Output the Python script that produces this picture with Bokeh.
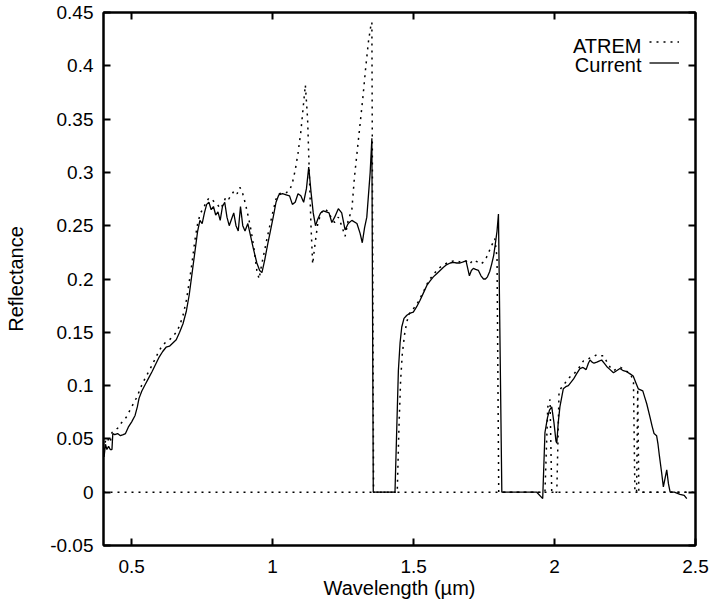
from bokeh.plotting import figure
from bokeh.models import (Range1d, LinearAxis, FixedTicker, PrintfTickFormatter,
                          CustomJSTickFormatter, Span, Legend, LegendItem, Label)
from bokeh.embed import file_html
from bokeh.resources import INLINE

# ---------------- data ----------------
current_wl = [
    0.402, 0.407, 0.412, 0.418, 0.424, 0.430, 0.433, 0.440, 0.450, 0.460, 0.470, 0.478,
    0.488, 0.500, 0.512, 0.520, 0.526, 0.536, 0.548, 0.560, 0.572, 0.585, 0.598, 0.610,
    0.622, 0.634, 0.646, 0.658, 0.670, 0.682, 0.694, 0.704, 0.714, 0.724, 0.734, 0.742,
    0.750, 0.758, 0.766, 0.774, 0.782, 0.790, 0.798, 0.806, 0.814, 0.822, 0.830, 0.838,
    0.846, 0.854, 0.862, 0.870, 0.878, 0.886, 0.894, 0.902, 0.912, 0.922, 0.932, 0.944,
    0.954, 0.962, 0.972, 0.982, 0.992, 1.002, 1.012, 1.022, 1.035, 1.048, 1.060, 1.070,
    1.080, 1.090, 1.100, 1.110, 1.120, 1.128, 1.136, 1.144, 1.152, 1.160, 1.170, 1.180,
    1.190, 1.200, 1.210, 1.220, 1.233, 1.245, 1.257, 1.268, 1.281, 1.299, 1.310, 1.318,
    1.326, 1.334, 1.346, 1.352, 1.357,
    1.434, 1.446, 1.452, 1.458, 1.466, 1.476, 1.488, 1.499, 1.511, 1.523, 1.535, 1.547,
    1.558, 1.570, 1.582, 1.594, 1.606, 1.618, 1.630, 1.641, 1.653, 1.665, 1.676, 1.686,
    1.692, 1.698, 1.705, 1.712, 1.720, 1.730, 1.739, 1.748, 1.755, 1.762, 1.770, 1.777,
    1.784, 1.789, 1.796, 1.801, 1.813,
    1.937, 1.958, 1.966, 1.975, 1.982, 1.990, 1.998, 2.005, 2.008, 2.013, 2.019, 2.031,
    2.040, 2.049, 2.058, 2.067, 2.078, 2.090, 2.101, 2.112, 2.120, 2.126, 2.133, 2.140,
    2.150, 2.158, 2.167, 2.176, 2.185, 2.197, 2.209, 2.220, 2.232, 2.244, 2.256, 2.268,
    2.279, 2.288, 2.297, 2.305, 2.313, 2.320, 2.327, 2.339, 2.346, 2.353, 2.362, 2.367,
    2.372, 2.380, 2.386, 2.392, 2.398, 2.404, 2.410, 2.425, 2.445, 2.460, 2.469,
]
current_refl = [
    0.033, 0.045, 0.040, 0.043, 0.040, 0.040, 0.055, 0.054, 0.055, 0.053, 0.054, 0.055,
    0.061, 0.066, 0.072, 0.080, 0.088, 0.095, 0.101, 0.107, 0.113, 0.120, 0.127, 0.132,
    0.136, 0.137, 0.140, 0.143, 0.150, 0.158, 0.170, 0.185, 0.205, 0.225, 0.245, 0.255,
    0.252, 0.262, 0.270, 0.272, 0.265, 0.268, 0.260, 0.263, 0.255, 0.268, 0.272, 0.258,
    0.250, 0.256, 0.262, 0.250, 0.245, 0.268, 0.250, 0.245, 0.252, 0.240, 0.228, 0.215,
    0.208, 0.206, 0.218, 0.232, 0.245, 0.258, 0.272, 0.279, 0.280, 0.279, 0.278, 0.270,
    0.272, 0.280, 0.278, 0.272, 0.285, 0.305, 0.282, 0.262, 0.250, 0.256, 0.262, 0.264,
    0.263, 0.262, 0.253, 0.258, 0.266, 0.262, 0.246, 0.252, 0.255, 0.252, 0.243, 0.234,
    0.248, 0.258, 0.300, 0.332, 0.000,
    0.000, 0.114, 0.140, 0.155, 0.163, 0.166, 0.168, 0.169, 0.174, 0.180, 0.187, 0.194,
    0.198, 0.202, 0.205, 0.208, 0.211, 0.2135, 0.215, 0.2155, 0.215, 0.215, 0.216, 0.217,
    0.210, 0.203, 0.208, 0.210, 0.209, 0.208, 0.203, 0.200, 0.200, 0.202, 0.207, 0.214,
    0.222, 0.231, 0.245, 0.261, 0.000,
    0.000, -0.006, 0.056, 0.070, 0.077, 0.080, 0.065, 0.048, 0.046, 0.065, 0.080, 0.097,
    0.099, 0.100, 0.103, 0.106, 0.111, 0.116, 0.117, 0.115, 0.121, 0.124, 0.122, 0.121,
    0.122, 0.123, 0.124, 0.121, 0.118, 0.115, 0.112, 0.114, 0.116, 0.114, 0.113, 0.111,
    0.109, 0.103, 0.097, 0.096, 0.095, 0.089, 0.083, 0.070, 0.062, 0.055, 0.053, 0.045,
    0.034, 0.018, 0.005, 0.013, 0.021, 0.008, 0.000, 0.000, -0.002, -0.003, -0.006,
]

atrem_wl = [
    0.402, 0.407, 0.412, 0.418, 0.424, 0.430, 0.440, 0.450, 0.460, 0.470, 0.480, 0.490,
    0.500, 0.510, 0.520, 0.530, 0.540, 0.550, 0.560, 0.572, 0.585, 0.598, 0.610, 0.622,
    0.634, 0.646, 0.658, 0.670, 0.682, 0.694, 0.704, 0.714, 0.724, 0.734, 0.744, 0.754,
    0.764, 0.774, 0.784, 0.794, 0.804, 0.814, 0.824, 0.834, 0.844, 0.854, 0.864, 0.874,
    0.884, 0.894, 0.904, 0.914, 0.924, 0.934, 0.944, 0.952, 0.960, 0.970, 0.980, 0.990,
    1.000, 1.012, 1.024, 1.036, 1.048, 1.060, 1.070, 1.080, 1.090, 1.100, 1.108, 1.116,
    1.124, 1.130, 1.136, 1.142, 1.150, 1.160, 1.172, 1.185, 1.200, 1.210, 1.220, 1.233,
    1.245, 1.257, 1.268, 1.281, 1.290, 1.300, 1.310, 1.320, 1.330, 1.340, 1.348, 1.352,
    1.358,
    1.442, 1.448, 1.454, 1.460, 1.468, 1.476, 1.486, 1.499, 1.511, 1.523, 1.535, 1.547,
    1.558, 1.570, 1.582, 1.594, 1.606, 1.618, 1.630, 1.641, 1.653, 1.665, 1.676, 1.686,
    1.698, 1.712, 1.726, 1.738, 1.748, 1.758, 1.768, 1.778, 1.788, 1.796, 1.802,
    1.966, 1.976, 1.984, 1.990, 2.008, 2.016, 2.030, 2.042, 2.054, 2.066, 2.078, 2.090,
    2.102, 2.114, 2.126, 2.138, 2.150, 2.162, 2.174, 2.186, 2.198, 2.210, 2.222, 2.234,
    2.246, 2.258, 2.270, 2.280, 2.285, 2.291, 2.295, 2.299, 2.470,
]
atrem_refl = [
    0.040, 0.048, 0.046, 0.050, 0.047, 0.056, 0.058, 0.060, 0.064, 0.067, 0.070, 0.075,
    0.080, 0.085, 0.090, 0.097, 0.103, 0.108, 0.113, 0.119, 0.126, 0.133, 0.138, 0.141,
    0.143, 0.146, 0.150, 0.156, 0.166, 0.180, 0.197, 0.215, 0.236, 0.252, 0.262, 0.266,
    0.272, 0.276, 0.275, 0.272, 0.270, 0.266, 0.270, 0.277, 0.275, 0.279, 0.283, 0.280,
    0.286, 0.280, 0.270, 0.258, 0.245, 0.228, 0.208, 0.200, 0.212, 0.225, 0.238, 0.250,
    0.262, 0.275, 0.280, 0.281, 0.281, 0.283, 0.290, 0.302, 0.318, 0.338, 0.360, 0.382,
    0.350, 0.300, 0.250, 0.214, 0.232, 0.252, 0.262, 0.266, 0.262, 0.256, 0.253, 0.258,
    0.250, 0.240, 0.255, 0.265, 0.295, 0.320, 0.345, 0.370, 0.398, 0.423, 0.437, 0.441,
    0.000,
    0.000, 0.060, 0.105, 0.130, 0.148, 0.160, 0.168, 0.172, 0.176, 0.182, 0.188, 0.195,
    0.200, 0.204, 0.208, 0.211, 0.213, 0.215, 0.216, 0.217, 0.217, 0.216, 0.216, 0.217,
    0.214, 0.218, 0.216, 0.214, 0.216, 0.220, 0.226, 0.232, 0.238, 0.220, 0.000,
    0.000, 0.080, 0.087, 0.000, 0.000, 0.095, 0.100, 0.104, 0.108, 0.110, 0.114, 0.118,
    0.123, 0.124, 0.126, 0.127, 0.129, 0.128, 0.128, 0.122, 0.117, 0.114, 0.116, 0.117,
    0.115, 0.113, 0.111, 0.103, 0.000, 0.000, 0.097, 0.000, 0.000,
]

series_names = ["ATREM", "Current"]
x_ticks = [0.5, 1.0, 1.5, 2.0, 2.5]
y_ticks = [-0.05, 0.0, 0.05, 0.1, 0.15, 0.2, 0.25, 0.3, 0.35, 0.4, 0.45]
x_title = "Wavelength (\u00b5m)"
y_title = "Reflectance"

FONT = "Liberation Sans"
TICK_FS = "19px"
TITLE_FS = "20px"

p = figure(width=712, height=605, output_backend="svg", toolbar_location=None,
           x_range=Range1d(0.4, 2.5), y_range=Range1d(-0.05, 0.45),
           x_axis_location=None, y_axis_location=None,
           min_border_left=103, min_border_right=17, min_border_top=12,
           min_border_bottom=60)
p.background_fill_color = "white"
p.border_fill_color = "white"
p.outline_line_color = "black"
p.outline_line_width = 2
p.xgrid.visible = False
p.ygrid.visible = False


def style_axis(ax, ticks, labelled):
    ax.ticker = FixedTicker(ticks=ticks)
    ax.axis_line_color = "black"
    ax.axis_line_width = 2
    ax.major_tick_line_color = "black"
    ax.major_tick_line_width = 2
    ax.major_tick_in = 7
    ax.major_tick_out = 0
    ax.minor_tick_line_color = None
    if labelled:
        ax.formatter = PrintfTickFormatter(format="%g")
        ax.major_label_text_font = FONT
        ax.major_label_text_font_size = TICK_FS
        ax.major_label_text_color = "black"
        ax.axis_label_text_font = FONT
        ax.axis_label_text_font_size = TITLE_FS
        ax.axis_label_text_font_style = "normal"
        ax.axis_label_text_color = "black"
    else:
        ax.formatter = CustomJSTickFormatter(code="return ''")
        ax.major_label_text_font_size = "0px"
        ax.major_label_standoff = 0


xb = LinearAxis(axis_label=x_title)
style_axis(xb, x_ticks, True)
xb.major_label_standoff = 14
xb.axis_label_standoff = 1
p.add_layout(xb, "below")

yl = LinearAxis(axis_label=y_title)
style_axis(yl, y_ticks, True)
yl.major_label_standoff = 10
yl.axis_label_standoff = 20
p.add_layout(yl, "left")

xt = LinearAxis()
style_axis(xt, x_ticks, False)
p.add_layout(xt, "above")

yr = LinearAxis()
style_axis(yr, y_ticks, False)
p.add_layout(yr, "right")

# zero axis (dotted, as in gnuplot's xzeroaxis)
p.add_layout(Span(location=0, dimension="width", line_color="black",
                  line_width=1.5, line_dash="2 5", level="underlay"))

r_atrem = p.line(atrem_wl, atrem_refl, line_color="black", line_width=1.5,
                 line_dash="2 5")
r_current = p.line(current_wl, current_refl, line_color="black", line_width=1.3)

# gnuplot-style key: text on the left, sample on the right
legend = Legend(items=[LegendItem(label="", renderers=[r_atrem]),
                       LegendItem(label="", renderers=[r_current])],
                location=(546, 472), orientation="vertical",
                glyph_width=30, glyph_height=21, label_height=21, label_width=0,
                label_standoff=0, spacing=0, padding=0, margin=0,
                label_text_font_size="10px",
                border_line_color=None, background_fill_alpha=0)
p.add_layout(legend, "center")

for name, yy in zip(series_names, [500, 481]):
    p.add_layout(Label(x=538, y=yy, x_units="screen", y_units="screen", text=name,
                       text_align="right", text_baseline="middle",
                       text_font=FONT, text_font_size=TITLE_FS, text_color="black"))

open("out.html", "w").write(file_html(p, INLINE))
